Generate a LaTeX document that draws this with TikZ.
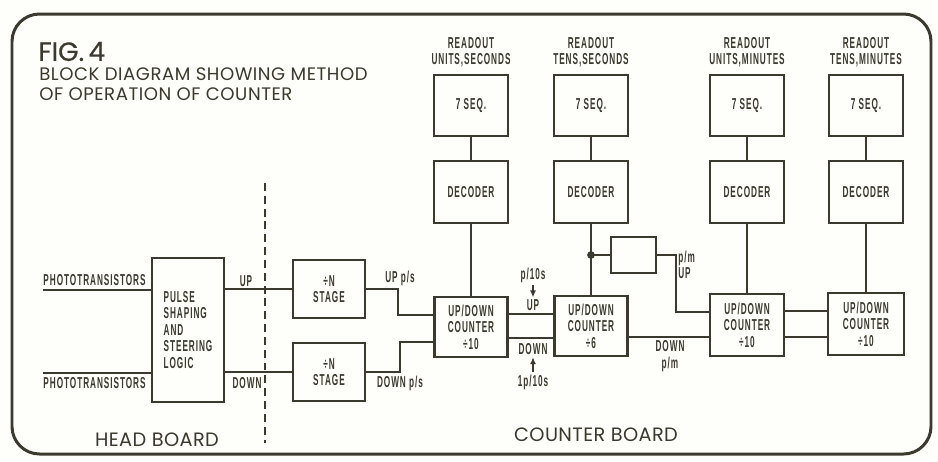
\documentclass[tikz,border=0pt]{standalone}
\usepackage{fontspec}
\setmainfont{Liberation Sans}
\newfontfamily\labfont[FakeStretch=0.52,LetterSpace=6]{Liberation Sans}
\newfontfamily\titfont[LetterSpace=3]{Poppins}
\newfontfamily\brdfont[LetterSpace=2]{Poppins}
\newfontfamily\figfont[FakeBold=0.6]{Poppins}
\usetikzlibrary{arrows.meta}
\definecolor{ink}{HTML}{3A3A2E}
\definecolor{paper}{HTML}{FEFEFA}
\newcommand\lf{\labfont\bfseries\fontsize{9}{9.4}\selectfont}
\begin{document}
\begin{tikzpicture}[x=0.02cm,y=-0.02cm,
  blk/.style={draw=ink, line width=1.4pt, inner sep=0pt, align=center, font=\lf, text=ink},
  wire/.style={draw=ink, line width=1pt},
  lbl/.style={font=\lf, text=ink, inner sep=0pt, align=center},
  arr/.style={draw=ink, line width=1pt, -{Latex[length=4pt,width=3.5pt]}, shorten <=1.5pt, shorten >=1pt},
  tit/.style={text=ink, inner sep=0pt, anchor=west}]
\useasboundingbox (0,0) rectangle (938,461);
\fill[paper] (0,0) rectangle (938,461);
\draw[ink, line width=1.7pt, rounded corners=0.55cm] (12,14) rectangle (931,454);

% titles
\node[tit, font=\figfont\fontsize{15}{17}\selectfont] (fig) at (38,51.5) {FIG.\,4};
\node[tit, font=\titfont\fontsize{10.3}{12}\selectfont] (t1) at (39,74) {BLOCK DIAGRAM SHOWING METHOD};
\node[tit, font=\titfont\fontsize{10.3}{12}\selectfont] (t2) at (39,94) {OF OPERATION OF COUNTER};
\node[text=ink, inner sep=0pt, font=\brdfont\fontsize{11}{13}\selectfont] (hb) at (157,440) {HEAD BOARD};
\node[text=ink, inner sep=0pt, font=\brdfont\fontsize{11}{13}\selectfont] (cb) at (596,435) {COUNTER BOARD};

% divider
\coordinate (dvA) at (265,183);
\coordinate (dvB) at (265,443);
\draw[ink, line width=1pt, dash pattern=on 4.5pt off 2.8pt] (dvA) -- (dvB);

% head board blocks
\node[blk, align=left, minimum width=1.44cm, minimum height=2.88cm] (pulse) at (188,330) {PULSE\\SHAPING\\AND\\STEERING\\LOGIC};
\node[blk, minimum width=1.44cm, minimum height=1.16cm] (st1) at (329,289) {\textdiv N\\STAGE};
\node[blk, minimum width=1.44cm, minimum height=1.16cm] (st2) at (329,372) {\textdiv N\\STAGE};

% readout columns
\foreach \n/\x/\a/\b in {1/471/UNITS/SECONDS, 2/591/TENS/SECONDS, 3/747/UNITS/MINUTES, 4/866/TENS/MINUTES}{
  \node[lbl] (ro\n) at (\x,52) {READOUT\\[-0.5pt]\a,\b};
  \node[blk, minimum width=1.48cm, minimum height=1.22cm] (sq\n) at (\x,105.5) {7 SEQ.};
  \node[blk, minimum width=1.48cm, minimum height=1.24cm] (dc\n) at (\x,192) {DECODER};
  \draw[wire] (sq\n) -- (dc\n);
}
\node[blk, minimum width=1.46cm, minimum height=1.2cm] (c1) at (471,327) {UP/DOWN\\COUNTER\\\textdiv10};
\node[blk, minimum width=1.46cm, minimum height=1.2cm] (c2) at (591,326) {UP/DOWN\\COUNTER\\\textdiv6};
\node[blk, minimum width=1.48cm, minimum height=1.24cm] (c3) at (747,325) {UP/DOWN\\COUNTER\\\textdiv10};
\node[blk, minimum width=1.52cm, minimum height=1.24cm] (c4) at (866,324) {UP/DOWN\\COUNTER\\\textdiv10};
\node[blk, minimum width=0.9cm, minimum height=0.72cm] (sb) at (633.5,255) {};

\draw[wire] (dc1) -- (c1);
\draw[wire] (dc2) -- (c2);
\draw[wire] (dc3) -- (c3);
\draw[wire] (dc4) -- (c4);

% inputs
\coordinate (pin1) at (43,290);
\coordinate (pin2) at (43,373);
\draw[wire] (pin1) -- (pulse.west |- pin1);
\draw[wire] (pin2) -- (pulse.west |- pin2);
\node[lbl] (ph1) at (94.5,280) {PHOTOTRANSISTORS};
\node[lbl] (ph2) at (94.5,383) {PHOTOTRANSISTORS};

\draw[wire] (pulse.east |- st1.west) -- (st1.west);
\draw[wire] (pulse.east |- st2.west) -- (st2.west);
\node[lbl] (lup) at (246,281) {UP};
\node[lbl] (ldn) at (247,383) {DOWN};

\draw[wire] (st1.east) -- (398,289) |- (c1.west |- 0,315);
\draw[wire] (st2.east) -- (400,372) |- (c1.west |- 0,342);
\node[lbl] (lups) at (400,278) {UP p/s};
\node[lbl] (ldps) at (400,383) {DOWN p/s};

\draw[wire] (c1.east |- 0,314) -- (c2.west |- 0,314);
\draw[wire] (c1.east |- 0,338) -- (c2.west |- 0,338);
\node[lbl] (p10) at (533,275) {p/10s};
\node[lbl] (upl) at (533,305) {UP};
\draw[arr] (p10) -- (upl);
\node[lbl] (dnl) at (533,349.5) {DOWN};
\node[lbl] (p110) at (533,382) {1p/10s};
\draw[arr] (p110) -- (dnl);

\coordinate (dot) at (591,255);
\fill[ink] (dot) circle (2.2pt);
\draw[wire] (dot) -- (sb.west);
\draw[wire] (sb.east) -- (676,255) |- (c3.west |- 0,312);
\node[lbl, align=left, anchor=west] (pmup) at (678,265) {p/m\\UP};

\draw[wire] (c2.east |- 0,337) -- (c3.west |- 0,337);
\node[lbl] (dnpm) at (670,356) {DOWN\\p/m};

\draw[wire] (c3.east |- 0,311) -- (c4.west |- 0,311);
\draw[wire] (c3.east |- 0,337) -- (c4.west |- 0,337);
\end{tikzpicture}
\end{document}
